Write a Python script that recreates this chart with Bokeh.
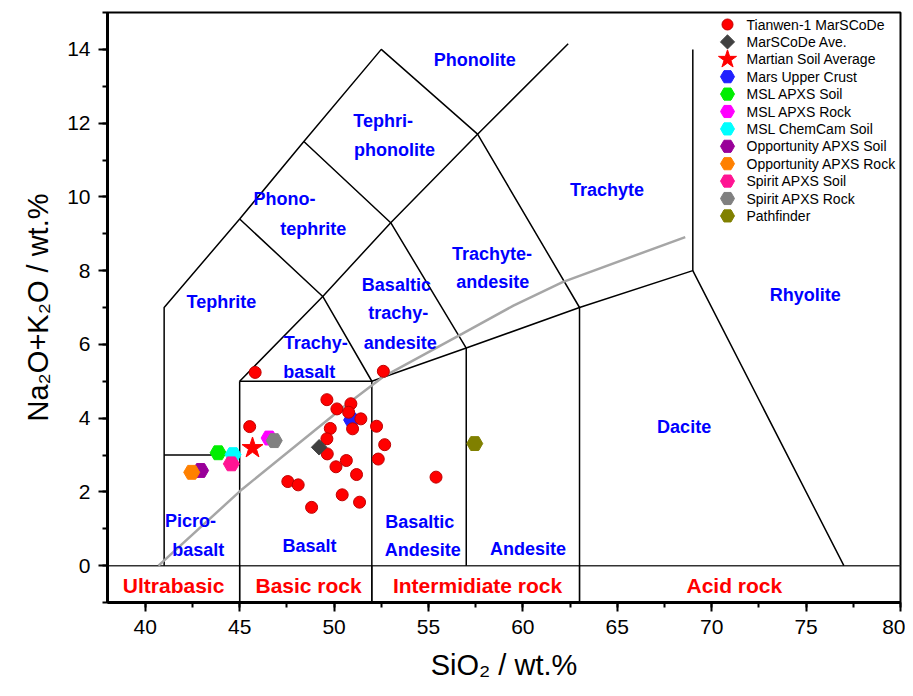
import numpy as np
from bokeh.plotting import figure
from bokeh.models import Range1d, SingleIntervalTicker
from bokeh.core.properties import value
from bokeh.embed import file_html
from bokeh.resources import INLINE

FONT = "Liberation Sans"

# ---------------- data ----------------
tianwen_x = [45.82, 52.61, 49.62, 50.15, 50.89, 50.77, 51.42, 50.98, 49.80, 45.53, 52.25, 49.62,
             52.68, 49.64, 50.65, 50.10, 52.34, 51.19, 47.55, 48.10, 55.40, 50.43, 51.35, 48.81]
tianwen_y = [5.24, 5.27, 4.50, 4.25, 4.39, 4.16, 3.98, 3.71, 3.72, 3.77, 3.78, 3.44,
             3.28, 3.03, 2.85, 2.68, 2.89, 2.47, 2.28, 2.19, 2.40, 1.92, 1.72, 1.58]

marscode_ave_x = [49.21]; marscode_ave_y = [3.21]
soil_avg_x = [45.68]; soil_avg_y = [3.19]
upper_crust_x = [50.93]; upper_crust_y = [3.95]
msl_soil_x = [43.86]; msl_soil_y = [3.06]
msl_rock_x = [46.56]; msl_rock_y = [3.46]
chemcam_x = [44.65]; chemcam_y = [3.01]
opp_soil_x = [42.93]; opp_soil_y = [2.58]
opp_rock_x = [42.46]; opp_rock_y = [2.53]
spirit_soil_x = [44.56]; spirit_soil_y = [2.76]
spirit_rock_x = [46.83]; spirit_rock_y = [3.39]
pathfinder_x = [57.45]; pathfinder_y = [3.31]

# TAS field boundaries (Le Bas et al.)
tas_lines = [
    ([41, 41, 45, 48.4, 52.5, 57.6, 63, 63], [0, 7, 9.4, 11.5, 14, 11.7, 7, -1]),
    ([41, 45], [3, 3]),
    ([45, 45], [-1, 5]),
    ([45, 52, 52], [5, 5, -1]),
    ([45, 49.4, 53, 57.6, 62.4], [5, 7.3, 9.3, 11.7, 14.15]),
    ([45, 49.4, 52], [9.4, 7.3, 5]),
    ([48.4, 53, 57, 57], [11.5, 9.3, 5.9, 0]),
    ([52, 57, 63, 69, 77], [5, 5.9, 7, 8, 0]),
    ([69, 69], [8, 14]),
]
alkaline_x = [40.7, 45.15, 50.6, 52.57, 56.8, 59.5, 62.1, 68.6]
alkaline_y = [0.0, 2.08, 4.34, 5.11, 6.29, 7.05, 7.69, 8.91]

field_names = ["Phonolite", "Tephri-", "phonolite", "Trachyte", "Phono-", "tephrite",
               "Trachyte-", "andesite", "Tephrite", "Basaltic", "trachy-", "andesite",
               "Trachy-", "basalt", "Rhyolite", "Dacite", "Picro-", "basalt", "Basalt",
               "Basaltic", "Andesite", "Andesite"]
field_x = [57.45, 52.6, 53.2, 64.46, 47.37, 48.9, 58.36, 58.4, 44.03, 53.3, 53.4, 53.5,
           49.03, 48.68, 74.96, 68.54, 42.39, 42.81, 48.7, 54.54, 54.7, 60.27]
field_y = [13.7, 12.07, 11.26, 10.2, 9.93, 9.14, 8.46, 7.68, 7.16, 7.62, 6.84, 6.05,
           6.03, 5.24, 7.35, 3.77, 1.22, 0.43, 0.54, 1.19, 0.43, 0.46]

rock_names = ["Ultrabasic", "Basic rock", "Intermidiate rock", "Acid rock"]
rock_x = [41.5, 48.65, 57.6, 71.2]
rock_y = [-0.55, -0.55, -0.55, -0.55]
rock_bounds = [45, 52, 63]

# ---------------- layout ----------------
X0, X1, Y0, Y1 = 38, 80, -1, 15
BL, BT, BR, BB = 107, 12, 5, 88          # borders (px)
W, H = 905, 690
FW, FH = W - BL - BR, H - BT - BB        # frame size (px)

def px_to_x(px):  # horizontal pixel inside frame -> data
    return X0 + px * (X1 - X0) / FW

def py_to_y(py):  # vertical pixel from frame top -> data
    return Y1 - py * (Y1 - Y0) / FH

p = figure(width=W, height=H, x_range=Range1d(X0, X1), y_range=Range1d(Y0, Y1),
           output_backend="svg", toolbar_location=None,
           min_border_left=BL, min_border_top=BT, min_border_right=BR, min_border_bottom=BB)
p.grid.visible = False
p.outline_line_color = "black"
p.outline_line_width = 2
p.background_fill_color = "white"
p.border_fill_color = "white"

p.xaxis.ticker = SingleIntervalTicker(interval=5, num_minor_ticks=2)
p.yaxis.ticker = SingleIntervalTicker(interval=2, num_minor_ticks=2)
for ax in (p.xaxis, p.yaxis):
    ax.axis_line_width = 3
    ax.axis_line_color = "black"
    ax.major_tick_line_width = 2
    ax.minor_tick_line_width = 2
    ax.major_tick_in = 0
    ax.major_tick_out = 9
    ax.minor_tick_in = 0
    ax.minor_tick_out = 5
    ax.major_label_text_font = FONT
    ax.major_label_text_font_size = "21px"
    ax.major_label_text_color = "black"
    ax.axis_label_text_font = FONT
    ax.axis_label_text_font_size = "29px"
    ax.axis_label_text_font_style = "normal"
    ax.axis_label_text_color = "black"
p.xaxis.axis_label = "SiO\u2082 / wt.%"
p.yaxis.axis_label = "Na\u2082O+K\u2082O / wt.%"
p.xaxis.major_label_standoff = 8
p.yaxis.major_label_standoff = 8
p.xaxis.axis_label_standoff = 12
p.yaxis.axis_label_standoff = 10

# zero line and rock-type separators
p.line([X0, X1], [0, 0], line_color="#333333", line_width=1.5)
for b in rock_bounds:
    p.line([b, b], [-1, 0], line_color="black", line_width=1.2)

for xs, ys in tas_lines:
    p.line(xs, ys, line_color="black", line_width=1.5)

p.line(alkaline_x, alkaline_y, line_color="#a6a6a6", line_width=2.5)

p.text(x=field_x, y=field_y, text=field_names, text_color="#0000ff",
       text_font=value(FONT), text_font_size="18px", text_font_style="bold",
       text_align="center", text_baseline="middle")
p.text(x=rock_x, y=rock_y, text=rock_names, text_color="#ff0000",
       text_font=value(FONT), text_font_size="21px", text_font_style="bold",
       text_align="center", text_baseline="middle")

# ---------------- markers ----------------
HS = 16
series = [
    # label, x, y, marker, size, color, angle
    ("Mars Upper Crust", upper_crust_x, upper_crust_y, "hex", HS, "#2020ff", 0),
    ("MSL APXS Soil", msl_soil_x, msl_soil_y, "hex", HS, "#00ee00", 0),
    ("MSL ChemCam Soil", chemcam_x, chemcam_y, "hex", HS, "#00ffff", 0),
    ("Spirit APXS Soil", spirit_soil_x, spirit_soil_y, "hex", HS, "#ff1493", 0),
    ("Opportunity APXS Soil", opp_soil_x, opp_soil_y, "hex", HS, "#990099", 0),
    ("Opportunity APXS Rock", opp_rock_x, opp_rock_y, "hex", HS, "#ff8000", 0),
    ("MSL APXS Rock", msl_rock_x, msl_rock_y, "hex", HS, "#ff00ff", 0),
    ("Spirit APXS Rock", spirit_rock_x, spirit_rock_y, "hex", HS, "#808080", 0),
    ("Pathfinder", pathfinder_x, pathfinder_y, "hex", HS, "#808000", 0),
    ("Tianwen-1 MarSCoDe", tianwen_x, tianwen_y, "circle", 12, "#ff0000", 0),
    ("MarSCoDe Ave.", marscode_ave_x, marscode_ave_y, "square", 11, "#404040", np.pi / 4),
    ("Martian Soil Average", soil_avg_x, soil_avg_y, "star", 22, "#ff0000", 0),
]
style = {}
for lab, xs, ys, mk, sz, col, ang in series:
    lc = "#c00000" if mk == "circle" else col
    p.scatter(xs, ys, marker=mk, size=sz, fill_color=col, line_color=lc, angle=ang)
    style[lab] = (mk, sz, col, lc, ang)

# ---------------- legend (drawn manually for large symbols) ----------------
legend_order = ["Tianwen-1 MarSCoDe", "MarSCoDe Ave.", "Martian Soil Average",
                "Mars Upper Crust", "MSL APXS Soil", "MSL APXS Rock", "MSL ChemCam Soil",
                "Opportunity APXS Soil", "Opportunity APXS Rock", "Spirit APXS Soil",
                "Spirit APXS Rock", "Pathfinder"]
LEG_SYM_PX, LEG_TXT_PX, LEG_ROW0, LEG_DROW = 620, 639, 12, 17.4
legend_sizes = {"circle": 11, "square": 10, "star": 19, "hex": 14}
for i, lab in enumerate(legend_order):
    mk, sz, col, lc, ang = style[lab]
    yy = py_to_y(LEG_ROW0 + i * LEG_DROW)
    p.scatter([px_to_x(LEG_SYM_PX)], [yy], marker=mk, size=legend_sizes[mk],
              fill_color=col, line_color=lc, angle=ang)
    p.text(x=[px_to_x(LEG_TXT_PX)], y=[yy], text=[lab], text_color="black",
           text_font=value(FONT), text_font_size="14px",
           text_align="left", text_baseline="middle")

open("out.html", "w").write(file_html(p, INLINE))
